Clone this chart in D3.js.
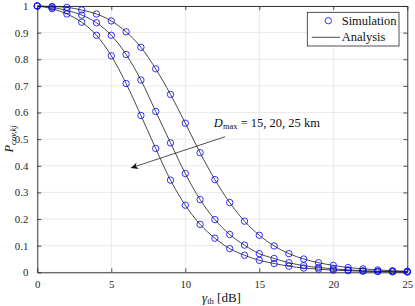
<!DOCTYPE html>
<html><head><meta charset="utf-8">
<script src="https://cdn.jsdelivr.net/npm/d3@7"></script>
<style>
html,body{margin:0;padding:0;background:#fff;}
svg{display:block;font-family:"Liberation Serif","Times New Roman",serif;}
</style></head>
<body><svg id="c" width="415" height="306"></svg>
<script>
// ---- data ----
const gammaTh = [0,1,2,3,4,5,6,7,8,9,10,11,12,13,14,15,16,17,18,19,20,21,22,23,24,25];
const simD15 = [1,0.99,0.970,0.939,0.890,0.813,0.709,0.589,0.465,0.346,0.252,0.180,0.128,0.089,0.064,0.045,0.033,0.023,0.016,0.012,0.008,0.006,0.004,0.003,0.002,0.001];
const simD20 = [1,0.995,0.983,0.966,0.937,0.890,0.818,0.722,0.604,0.486,0.371,0.273,0.198,0.142,0.102,0.070,0.052,0.036,0.025,0.018,0.013,0.009,0.006,0.004,0.003,0.002];
const simD25 = [1,0.998,0.995,0.985,0.970,0.944,0.903,0.845,0.764,0.668,0.560,0.449,0.348,0.262,0.192,0.139,0.099,0.070,0.050,0.036,0.026,0.018,0.013,0.009,0.006,0.004];
const anaD15 = simD15.slice();
const anaD20 = simD20.slice();
const anaD25 = simD25.slice();
const xTicks = [0,5,10,15,20,25];
const yTicks = [0,0.1,0.2,0.3,0.4,0.5,0.6,0.7,0.8,0.9,1];
const legendLabels = ["Simulation","Analysis"];

// ---- layout ----
const svg = d3.select("#c");
const L = 37.3, R = 407.3, T = 6, B = 272.3;
const x = d3.scaleLinear().domain([0,25]).range([L,R]);
const y = d3.scaleLinear().domain([0,1]).range([B,T]);
const axisCol = "#262626";

// grid
const g = svg.append("g");
g.selectAll(".gx").data(xTicks).join("line")
  .attr("x1",d=>x(d)).attr("x2",d=>x(d)).attr("y1",T).attr("y2",B)
  .attr("stroke","#e3e3e3").attr("stroke-width",0.8);
g.selectAll(".gy").data(yTicks).join("line")
  .attr("y1",d=>y(d)).attr("y2",d=>y(d)).attr("x1",L).attr("x2",R)
  .attr("stroke","#e3e3e3").attr("stroke-width",0.8);

// axes (MATLAB-style box, ticks inward)
const tl = 4;
const axB = svg.append("g").attr("transform",`translate(0,${B})`)
  .call(d3.axisBottom(x).tickValues(xTicks).tickSizeInner(-tl).tickSizeOuter(0).tickPadding(8).tickFormat(d3.format("d")));
const axT = svg.append("g").attr("transform",`translate(0,${T})`)
  .call(d3.axisTop(x).tickValues(xTicks).tickSizeInner(-tl).tickSizeOuter(0).tickFormat(""));
const axL = svg.append("g").attr("transform",`translate(${L},0)`)
  .call(d3.axisLeft(y).tickValues(yTicks).tickSizeInner(-tl).tickSizeOuter(0).tickPadding(9).tickFormat(d=>d===0||d===1?String(d):d3.format(".1f")(d)));
const axR = svg.append("g").attr("transform",`translate(${R},0)`)
  .call(d3.axisRight(y).tickValues(yTicks).tickSizeInner(-tl).tickSizeOuter(0).tickFormat(""));
[axB,axT,axL,axR].forEach(a=>{
  a.select(".domain").attr("stroke",axisCol).attr("stroke-width",0.9);
  a.selectAll(".tick line").attr("stroke",axisCol).attr("stroke-width",0.8);
  a.selectAll(".tick text").attr("fill","#262626").attr("font-size","10.8px")
    .attr("font-family","Liberation Serif, serif");
});

// series
const series = [
  {sim: simD15, ana: anaD15},
  {sim: simD20, ana: anaD20},
  {sim: simD25, ana: anaD25}
];
const line = d3.line().x((d,i)=>x(gammaTh[i])).y(d=>y(d)).curve(d3.curveMonotoneX);
const plot = svg.append("g");
series.forEach(s=>{
  plot.append("path").attr("d",line(s.ana)).attr("fill","none")
    .attr("stroke","#1a1a1a").attr("stroke-width",0.8);
});
series.forEach(s=>{
  plot.selectAll(null).data(s.sim).join("circle")
    .attr("cx",(d,i)=>x(gammaTh[i])).attr("cy",d=>y(d)).attr("r",3.2)
    .attr("fill","none").attr("stroke","#0000ff").attr("stroke-width",0.8);
});

// annotation arrow
const a0 = [12.68,0.509], a1 = [6.33,0.392];
svg.append("defs").append("marker").attr("id","ah")
  .attr("viewBox","0 0 10 10").attr("refX",10).attr("refY",5)
  .attr("markerWidth",9).attr("markerHeight",7).attr("orient","auto")
  .attr("markerUnits","userSpaceOnUse")
  .append("path").attr("d","M0,0 L10,5 L0,10 L3,5 Z").attr("fill","#111");
svg.append("line").attr("x1",x(a0[0])).attr("y1",y(a0[1]))
  .attr("x2",x(a1[0])).attr("y2",y(a1[1]))
  .attr("stroke","#262626").attr("stroke-width",0.8).attr("marker-end","url(#ah)");

const ann = svg.append("text").attr("x",x(11.93)).attr("y",y(0.546))
  .attr("font-size","12.5px").attr("fill","#111");
ann.append("tspan").attr("font-style","italic").text("D");
ann.append("tspan").attr("font-size","8.5px").attr("dy",2.5).text("max");
ann.append("tspan").attr("dy",-2.5).text(" = 15, 20, 25 km");

// axis labels
const xl = svg.append("text").attr("x",221.5).attr("y",301.5).attr("text-anchor","middle")
  .attr("font-size","13px").attr("fill","#111");
xl.append("tspan").attr("font-style","italic").text("γ");
xl.append("tspan").attr("font-size","8.5px").attr("dy",2.5).text("th");
xl.append("tspan").attr("dy",-2.5).text(" [dB]");

const yl = svg.append("text").attr("transform","translate(13,139) rotate(-90)")
  .attr("text-anchor","middle").attr("font-size","12.5px").attr("fill","#111")
  .attr("font-style","italic");
yl.append("tspan").text("P");
yl.append("tspan").attr("font-size","8.5px").attr("dy",2.5).text("cov,kj");

// legend
const lg = svg.append("g");
lg.append("rect").attr("x",307.3).attr("y",12.3).attr("width",91.7).attr("height",33.7)
  .attr("fill","#fff").attr("stroke",axisCol).attr("stroke-width",0.8);
lg.append("circle").attr("cx",328.3).attr("cy",20.7).attr("r",3.2)
  .attr("fill","none").attr("stroke","#0000ff").attr("stroke-width",0.8);
lg.append("line").attr("x1",311.7).attr("x2",340).attr("y1",37.3).attr("y2",37.3)
  .attr("stroke","#1a1a1a").attr("stroke-width",0.8);
lg.selectAll("text.lt").data(legendLabels).join("text")
  .attr("x",341.7).attr("y",(d,i)=>24.8+i*16.5)
  .attr("font-size","12.5px").attr("fill","#111").text(d=>d);
</script></body></html>
